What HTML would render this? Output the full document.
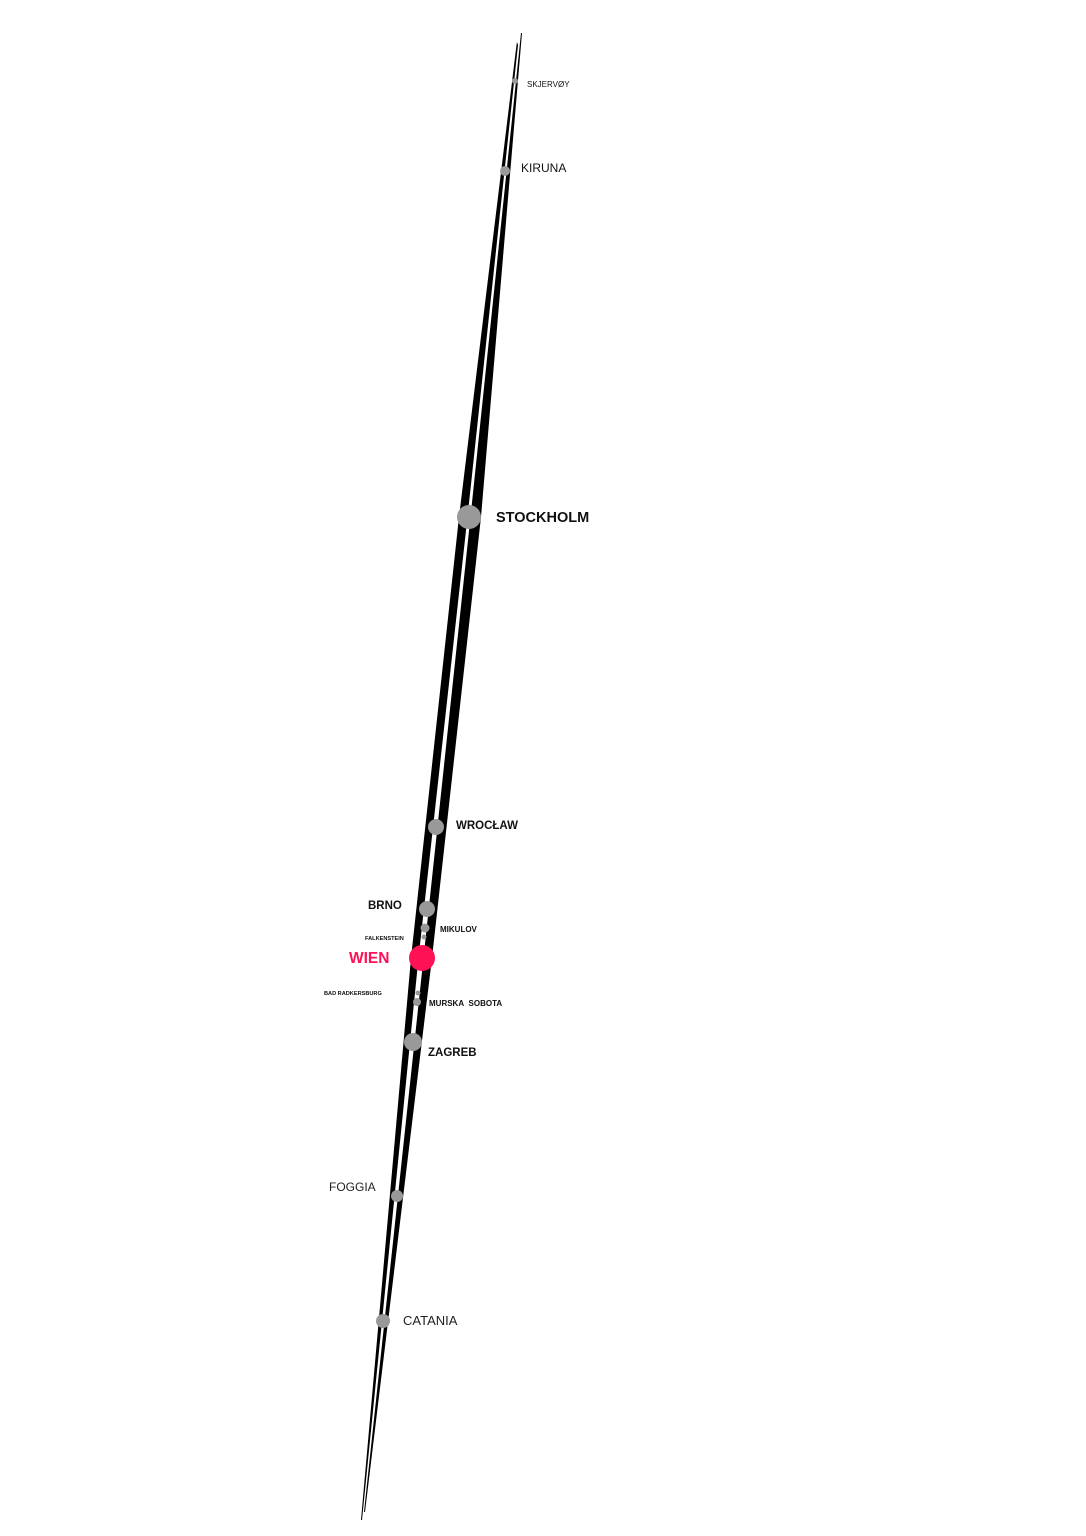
<!DOCTYPE html>
<html><head><meta charset="utf-8"><style>
html,body{margin:0;padding:0;background:#fff;}
svg{display:block}
text{font-family:"Liberation Sans","DejaVu Sans",sans-serif;}
</style></head><body>
<svg width="1086" height="1536" viewBox="0 0 1086 1536" xmlns="http://www.w3.org/2000/svg">
<polygon fill="#000" points="517,42 516.5,45 459,517 411,958 361,1520 362,1520 418.5,958 467.5,517 518,45"/>
<polygon fill="#000" points="521,33 470.5,517 423.5,958 364,1512 365,1512 432,958 481,517 522,33"/>
<g fill="#999">
<circle cx="515" cy="81" r="3"/>
<circle cx="505" cy="171" r="5"/>
<circle cx="469" cy="517" r="12"/>
<circle cx="436" cy="827" r="8"/>
<circle cx="427" cy="909" r="8"/>
<circle cx="425" cy="928" r="4.5"/>
<circle cx="424" cy="937" r="2.5"/>
<circle cx="418" cy="993" r="2.5"/>
<circle cx="417" cy="1002" r="4"/>
<circle cx="413" cy="1042" r="9"/>
<circle cx="397" cy="1196" r="6"/>
<circle cx="383" cy="1321" r="7"/>
</g>
<circle cx="422" cy="958" r="13" fill="#ff1155"/>
<g fill="#111" font-weight="bold">
<text x="527" y="87" font-size="8" font-weight="normal">SKJERVØY</text>
<text x="521" y="172" font-size="12" font-weight="normal">KIRUNA</text>
<text x="496" y="522" font-size="14.5">STOCKHOLM</text>
<text x="456" y="829" font-size="11.5">WROCŁAW</text>
<text x="368" y="909" font-size="11.5">BRNO</text>
<text x="440" y="932" font-size="8">MIKULOV</text>
<text x="365" y="940" font-size="5.6">FALKENSTEIN</text>
<text x="324" y="995" font-size="5.6">BAD RADKERSBURG</text>
<text x="429" y="1006" font-size="8">MURSKA&#160; SOBOTA</text>
<text x="428" y="1056" font-size="11.5">ZAGREB</text>
</g>
<text x="349" y="963" font-size="15.5" font-weight="bold" fill="#ff1155">WIEN</text>
<text x="329" y="1191" font-size="12" fill="#222">FOGGIA</text>
<text x="403" y="1325" font-size="13" fill="#222">CATANIA</text>
</svg>
</body></html>
